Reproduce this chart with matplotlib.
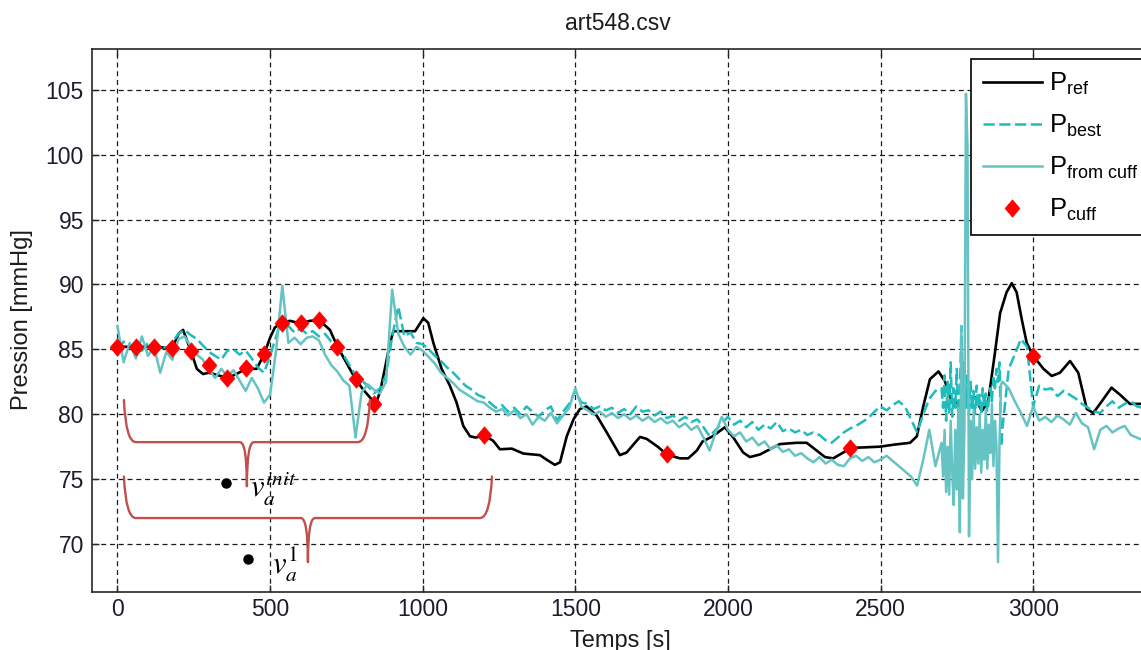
import numpy as np
import matplotlib
matplotlib.use('Agg')
import matplotlib.pyplot as plt
from matplotlib.path import Path
from matplotlib.patches import PathPatch

plt.rcParams['font.family'] = ['Liberation Sans', 'DejaVu Sans']
plt.rcParams['mathtext.fontset'] = 'custom'
plt.rcParams['mathtext.rm'] = 'Liberation Sans'
plt.rcParams['mathtext.it'] = 'Liberation Sans:italic'

# ---------------- data ----------------
title = "art548.csv"
xlabel = "Temps [s]"
ylabel = "Pression [mmHg]"
xticks = [0, 500, 1000, 1500, 2000, 2500, 3000]
yticks = [70, 75, 80, 85, 90, 95, 100, 105]

# reference pressure (black)
ref_t = [0, 60, 120, 180, 200, 215, 240, 260, 280, 300,
         330, 360, 390, 420, 456, 480, 500, 516, 540, 565,
         600, 631, 661, 696, 721, 740, 780, 805, 827, 846,
         860, 876, 893, 904, 940, 975, 1002, 1018, 1035, 1062,
         1089, 1111, 1133, 1155, 1175, 1200, 1231, 1253, 1292, 1330,
         1384, 1406, 1433, 1450, 1472, 1494, 1515, 1537, 1570, 1603,
         1646, 1668, 1712, 1734, 1770, 1800, 1843, 1870, 1898, 1917,
         1950, 1990, 2018, 2050, 2072, 2105, 2170, 2225, 2258, 2291,
         2318, 2345, 2378, 2400, 2450, 2498, 2542, 2597, 2619, 2640,
         2662, 2690, 2711, 2733, 2760, 2782, 2810, 2832, 2853, 2875,
         2892, 2913, 2930, 2946, 2963, 2979, 3000, 3034, 3061, 3088,
         3121, 3148, 3176, 3197, 3219, 3257, 3285, 3317, 3353, 3400]
ref_p = [85.2, 85.2, 85.2, 85.1, 86.2, 86.5, 84.9, 83.5, 83.1, 83.2,
         83.0, 82.8, 83.1, 83.5, 83.5, 84.6, 85.9, 86.7, 87.05, 87.2,
         87.0, 87.2, 87.25, 86.5, 85.2, 84.4, 82.7, 81.9, 81.3, 80.8,
         81.7, 83.5, 85.5, 86.4, 86.4, 86.4, 87.4, 87.05, 85.5, 83.5,
         82.2, 80.9, 79.1, 78.3, 78.2, 78.4, 77.95, 77.3, 77.35, 76.97,
         76.85, 76.5, 76.1, 76.3, 78.3, 79.6, 80.4, 80.6, 79.9, 78.6,
         76.85, 77.05, 78.25, 78.1, 77.5, 76.9, 76.6, 76.6, 77.2, 77.9,
         78.3, 79.0, 78.2, 77.05, 76.7, 76.9, 77.7, 77.8, 77.8, 77.2,
         76.7, 76.6, 77.05, 77.4, 77.45, 77.5, 77.65, 77.8, 78.3, 80.6,
         82.7, 83.3, 82.55, 81.0, 80.8, 81.4, 81.3, 80.25, 81.0, 84.75,
         87.8, 89.4, 90.1, 89.4, 87.3, 85.5, 84.5, 83.5, 82.95, 83.2,
         84.1, 83.2, 80.4, 80.1, 80.8, 82.05, 81.5, 80.8, 80.8, 80.8]

# time base for the two noisy estimates
noisy_t = np.concatenate([np.arange(0, 2700, 20),
                          np.arange(2700, 2900, 5),
                          np.arange(2900, 3361, 20)])

# P best (dashed cyan)
best_p = [
    85.0, 85.6, 85.2, 85.4, 84.9, 85.5, 85.0, 85.3, 85.1, 85.6,
    86.2, 86.5, 86.1, 85.8, 85.3, 84.8, 84.5, 84.2, 84.9, 85.0,
    84.6, 84.9, 84.3, 83.6, 83.2, 84.5, 86.0, 87.5, 86.8, 86.3,
    86.6, 86.2, 86.4, 86.0, 86.2, 85.6, 85.3, 84.6, 83.8, 83.0,
    82.6, 82.2, 81.6, 82.0, 83.0, 86.0, 88.3, 86.0, 86.3, 85.5,
    85.4, 85.0, 84.5, 84.1, 83.6, 83.2, 82.7, 82.2, 81.9, 81.5,
    81.3, 80.9, 80.5, 80.7, 80.2, 80.5, 80.0, 80.6, 80.2, 79.8,
    80.3, 80.6, 79.5, 80.2, 80.8, 81.8, 80.9, 80.8, 80.4, 80.6,
    80.3, 80.5, 80.1, 80.4, 80.0, 80.6, 80.2, 80.3, 79.9, 80.2,
    79.7, 79.9, 79.5, 79.8, 79.4, 79.6, 79.0, 78.3, 78.8, 79.3,
    79.8, 79.2, 79.5, 79.0, 79.4, 78.8, 79.2, 78.9, 79.4, 78.7,
    78.9, 78.6, 78.8, 78.4, 78.6, 78.4, 78.0, 77.8, 78.2, 78.6,
    78.9, 79.1, 79.4, 79.7, 80.2, 80.6, 80.3, 80.7, 81.0, 80.6,
    79.6, 78.6, 80.0, 81.2, 81.8,
    # 2700 .. 2895 (5 s)
    82.0, 80.5, 83.0, 79.5, 82.5, 80.0, 84.0, 79.8, 82.0, 80.5,
    83.5, 79.5, 81.5, 86.8, 81.0, 84.0, 80.5, 83.0, 80.0, 82.5,
    80.3, 81.8, 80.0, 82.2, 80.5, 81.5, 80.0, 82.0, 80.6, 81.6,
    80.2, 81.0, 82.0, 81.0, 82.8, 82.0, 83.5, 82.5, 84.0, 77.5,
    # 2900 .. 3360
    79.0, 83.5, 84.6, 85.8, 85.2, 80.6, 82.2, 81.9, 82.0, 81.4,
    81.8, 81.5, 81.2, 80.8, 80.5, 80.2, 80.1, 80.6, 81.0, 80.5,
    80.8, 81.0, 80.6, 80.5]

# P from cuff (solid light teal)
fromcuff_p = [
    86.8, 84.0, 85.5, 84.3, 86.0, 84.5, 85.2, 83.2, 84.8, 84.2,
    85.8, 86.0, 85.2, 84.6, 84.2, 83.4, 82.8, 83.5, 82.9, 83.4,
    82.6, 81.8, 82.8, 82.0, 80.9, 81.5, 85.0, 89.9, 85.5, 85.9,
    85.4, 85.9, 86.0, 85.7, 84.6, 83.8, 83.3, 82.6, 82.2, 78.2,
    81.7, 82.3, 81.9, 81.6, 82.5, 89.6, 86.2, 85.2, 84.6, 85.2,
    84.9, 84.4, 83.9, 83.2, 82.8, 82.4, 81.9, 81.6, 81.3, 81.0,
    80.9, 80.5, 80.2, 80.4, 79.9, 80.3, 79.7, 80.0, 79.2, 79.8,
    79.5, 80.1, 79.3, 79.9, 80.5, 82.0, 80.6, 80.3, 80.0, 80.2,
    79.8, 80.1, 79.7, 80.0, 79.6, 79.9, 79.5, 79.8, 79.4, 79.7,
    79.3, 79.5, 79.0, 79.3, 78.8, 79.1, 78.2, 77.2, 78.6, 79.8,
    78.8, 78.3, 78.6, 77.9, 78.2, 77.6, 77.9, 77.3, 77.6, 77.1,
    77.3, 76.8, 77.0, 76.6, 76.3, 76.7, 76.2, 76.5, 76.1, 76.0,
    76.6, 76.8, 76.4, 76.7, 76.3, 76.5, 76.8, 76.4, 76.0, 75.6,
    75.2, 74.5, 76.5, 78.8, 76.0,
    # 2700 .. 2895 (5 s)
    77.8, 75.2, 78.8, 74.0, 77.5, 73.8, 79.5, 75.5, 73.0, 78.8,
    74.2, 80.5, 70.9, 86.8, 73.5, 79.0, 104.7, 100.6, 70.6, 79.5,
    75.0, 80.3, 75.8, 79.0, 76.2, 80.0, 75.5, 78.8, 76.5, 80.4,
    75.8, 79.2, 77.0, 80.8, 76.0, 79.5, 77.5, 68.6, 78.0, 82.3,
    # 2900 .. 3360
    82.5, 82.0, 81.0, 80.1, 79.1, 80.6, 79.5, 79.8, 79.4, 79.9,
    79.6, 79.2, 80.1, 79.3, 79.0, 77.3, 78.8, 79.1, 78.6, 78.9,
    79.1, 78.4, 78.2, 78.0]

# cuff measurements (red diamonds)
cuff_t = [0, 60, 120, 180, 240, 300, 360, 420, 480, 540, 600, 660, 720,
          780, 840, 1200, 1800, 2400, 3000]
cuff_p = [85.18, 85.18, 85.18, 85.08, 84.87, 83.79, 82.77, 83.54, 84.62,
          87.05, 87.0, 87.25, 85.2, 82.7, 80.8, 78.4, 76.9, 77.4, 84.5]

# annotation: braces (x0, x1, xcusp, ytop, yline, ytip) and dots
braces = [(21, 827, 424, 81.1, 77.85, 74.45),
          (21, 1227, 624, 75.2, 72.0, 68.6)]
dot_t = [355, 428]
dot_p = [74.7, 68.85]
dot_labels = [r'$v_a^{init}$', r'$v_a^{1}$']
label_pos = [(434, 73.6), (506, 67.7)]

legend_labels = [r'P$_{\mathrm{ref}}$', r'P$_{\mathrm{best}}$',
                 r'P$_{\mathrm{from\ cuff}}$', r'P$_{\mathrm{cuff}}$']

# ---------------- figure ----------------
W, H = 1141, 650
fig = plt.figure(figsize=(W / 100, H / 100), dpi=100)
ax_l, ax_r, ax_t, ax_b = 92, 1150, 49, 592
ax = fig.add_axes([ax_l / W, 1 - ax_b / H, (ax_r - ax_l) / W, (ax_b - ax_t) / H])

ax.set_xlim(-83.5, 3383)
ax.set_ylim(66.3, 108.15)

ln_ref, = ax.plot(ref_t, ref_p, color='black', lw=1.9, zorder=3)
ln_best, = ax.plot(noisy_t, best_p, color='#1FBCBC', lw=1.8, dashes=(4.5, 1.8), zorder=3)
ln_from, = ax.plot(noisy_t, fromcuff_p, color='#66C3C3', lw=1.8, zorder=3)
diamond = Path([(0, 1), (0.85, 0), (0, -1), (-0.85, 0), (0, 1)],
               [Path.MOVETO, Path.LINETO, Path.LINETO, Path.LINETO, Path.CLOSEPOLY])
ln_cuff, = ax.plot(cuff_t, cuff_p, ls='none', marker=diamond, ms=12.5,
                   color='red', mec='red', mew=0.5, zorder=4)

# grid / ticks / spines
ax.set_xticks(xticks)
ax.set_yticks(yticks)
ax.grid(True, color='#1a1a1a', ls=(0, (4, 3)), lw=0.9)
ax.set_axisbelow(True)
ax.tick_params(direction='in', length=5, width=1, top=True, right=True,
               labelsize=16.5, labelcolor='#1c1c2c', color='#262626')
ax.tick_params(axis='y', pad=5.8)
ax.tick_params(axis='x', pad=4.0)
for s in ax.spines.values():
    s.set_linewidth(1.2)
    s.set_color('#262626')

fig.text(618 / W, 1 - 30 / H, title, ha='center', va='baseline', fontsize=16.5, color='#1c1c1c')
fig.text(620 / W, 1 - 647 / H, xlabel, ha='center', va='baseline', fontsize=17, color='#1c1c1c')
fig.text(22 / W, 1 - 320 / H, ylabel, ha='center', va='center', rotation=90,
         fontsize=17, color='#1c1c1c')

# braces
px_x = 500 / 152.6
ex = 12 * px_x
lean = 2 * px_x
cx = 7 * px_x
for (x0, x1, xc, ytop, yh, ytip) in braces:
    verts = [(x0, ytop), (x0 + lean, yh), (x0 + ex, yh),
             (xc - cx, yh),
             (xc, yh), (xc, ytip),
             (xc, yh), (xc + cx, yh),
             (x1 - ex, yh),
             (x1 - lean, yh), (x1, ytop)]
    codes = [Path.MOVETO, Path.CURVE3, Path.CURVE3, Path.LINETO,
             Path.CURVE3, Path.CURVE3, Path.CURVE3, Path.CURVE3,
             Path.LINETO, Path.CURVE3, Path.CURVE3]
    ax.add_patch(PathPatch(Path(verts, codes), fill=False, edgecolor='#C0504D',
                           lw=1.7, zorder=5, capstyle='round', joinstyle='round'))

ax.plot(dot_t, dot_p, 'o', color='black', ms=6.5, zorder=5)
for (lx, ly), lab in zip(label_pos, dot_labels):
    ax.text(lx, ly, lab, ha='left', va='baseline', fontsize=22,
            math_fontfamily='stix', zorder=5)

leg = ax.legend([ln_ref, ln_best, ln_from, ln_cuff], legend_labels,
                loc='upper left', bbox_to_anchor=(971 / W, 1 - 59 / H),
                bbox_transform=fig.transFigure, borderaxespad=0,
                frameon=True, fancybox=False, edgecolor='black', framealpha=1,
                fontsize=18.5, handlelength=2.3, handletextpad=0.3,
                borderpad=0.45, labelspacing=0.62, numpoints=1)
leg.get_frame().set_linewidth(1.2)
leg.set_zorder(10)

fig.savefig('out.png', dpi=100)
